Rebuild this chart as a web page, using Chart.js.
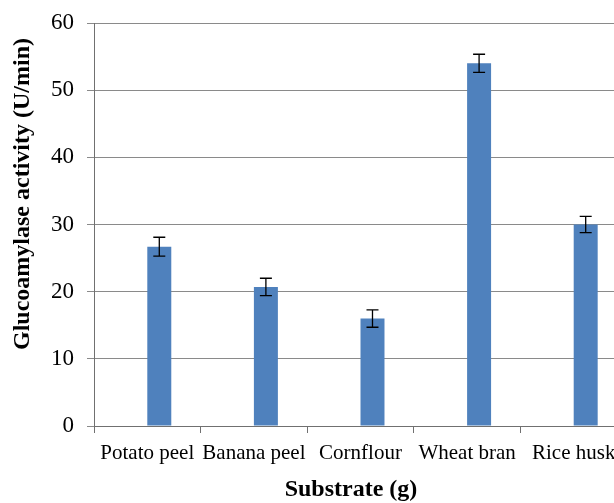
<!DOCTYPE html>
<html>
<head>
<meta charset="utf-8">
<script src="https://cdn.jsdelivr.net/npm/chart.js@4/dist/chart.umd.min.js"></script>
<style>
  html, body { margin: 0; padding: 0; background: #fff; overflow: hidden; }
  #wrap { width: 630px; height: 503px; }
</style>
</head>
<body>
<div id="wrap"><canvas id="chart" width="630" height="503"></canvas></div>
<script>
// Glucoamylase activity by substrate

const substrates = ['Potato peel', 'Banana peel', 'Cornflour', 'Wheat bran', 'Rice husk'];
const blankSeries = [null, null, null, null, null]; // empty series, shifts bars right as in the original
const activity = [26.7, 20.7, 16.0, 54.0, 30.0];
const errors = [1.4, 1.3, 1.3, 1.35, 1.2];
const yTicks = [0, 10, 20, 30, 40, 50, 60];

const serif = "'Liberation Serif', 'Times New Roman', serif";

// error bars drawn on top of each bar
const errorBars = {
    id: 'errorBars',
    afterDatasetsDraw(chart) {
        const ctx = chart.ctx;
        const y = chart.scales.y;
        const meta = chart.getDatasetMeta(1);
        ctx.save();
        ctx.strokeStyle = '#000';
        ctx.lineWidth = 1.3;
        meta.data.forEach((bar, i) => {
            const top = y.getPixelForValue(activity[i] + errors[i]);
            const bot = y.getPixelForValue(activity[i] - errors[i]);
            const cap = 6;
            ctx.beginPath();
            ctx.moveTo(bar.x, top);
            ctx.lineTo(bar.x, bot);
            ctx.moveTo(bar.x - cap, top);
            ctx.lineTo(bar.x + cap, top);
            ctx.moveTo(bar.x - cap, bot);
            ctx.lineTo(bar.x + cap, bot);
            ctx.stroke();
        });
        ctx.restore();
    }
};

// axis titles
const axisTitles = {
    id: 'axisTitles',
    afterDraw(chart) {
        const ctx = chart.ctx;
        const area = chart.chartArea;
        ctx.save();
        ctx.fillStyle = '#000';
        ctx.font = 'bold 24px ' + serif;
        ctx.textAlign = 'center';
        ctx.textBaseline = 'middle';
        ctx.fillText('Substrate (g)', 351, 490);
        ctx.translate(23, 194);
        ctx.rotate(-Math.PI / 2);
        ctx.fillText('Glucoamylase activity (U/min)', 0, 0);
        ctx.restore();
    }
};

new Chart(document.getElementById('chart').getContext('2d'), {
    type: 'bar',
    data: {
        labels: substrates,
        datasets: [{
            data: blankSeries,
            backgroundColor: '#4f81bd',
            categoryPercentage: 0.45,
            barPercentage: 1
        }, {
            data: activity,
            backgroundColor: '#4f81bd',
            borderWidth: 0,
            categoryPercentage: 0.45,
            barPercentage: 1
        }]
    },
    options: {
        responsive: false,
        animation: false,
        devicePixelRatio: 1,
        layout: { padding: { top: 23, right: 3, left: 0, bottom: 0 } },
        plugins: {
            legend: { display: false },
            tooltip: { enabled: false }
        },
        scales: {
            x: {
                grid: { drawOnChartArea: false, offset: true, tickLength: 7, color: '#707070' },
                border: { color: '#707070', width: 1 },
                ticks: {
                    font: { family: serif, size: 21 },
                    color: '#000',
                    padding: 8,
                    maxRotation: 0,
                    autoSkip: false
                },
                afterFit: s => { s.height = 77; }
            },
            y: {
                min: 0,
                max: 60,
                afterBuildTicks: s => { s.ticks = yTicks.map(v => ({ value: v })); },
                grid: { color: '#8a8a8a', tickLength: 7 },
                border: { color: '#707070', width: 1 },
                ticks: {
                    font: { family: serif, size: 23 },
                    color: '#000',
                    padding: 13
                },
                afterFit: s => { s.width = 94; s.paddingTop = 0; s.paddingBottom = 0; }
            }
        }
    },
    plugins: [errorBars, axisTitles]
});
</script>
</body>
</html>
